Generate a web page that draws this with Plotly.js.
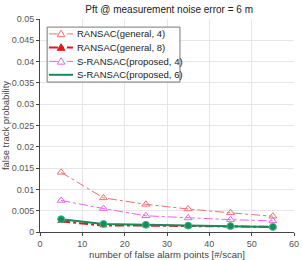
<!DOCTYPE html>
<html><head><meta charset="utf-8">
<script src="https://cdn.plot.ly/plotly-3.0.1.min.js"></script>
<style>html,body{margin:0;padding:0;background:#fff}#c{width:302px;height:260px}</style>
</head><body><div id="c"></div>
<script>
const falseAlarmPoints = [5, 15, 25, 35, 45, 55];
const ransacGeneral4 = [0.0140, 0.0080, 0.0065, 0.0054, 0.0045, 0.0037];
const ransacGeneral8 = [0.0025, 0.0015, 0.0015, 0.0014, 0.0013, 0.0012];
const sRansacProposed4 = [0.0074, 0.0055, 0.0038, 0.0033, 0.0029, 0.0026];
const sRansacProposed6 = [0.0030, 0.0019, 0.0017, 0.0015, 0.0014, 0.0012];
const seriesNames = ['RANSAC(general, 4)', 'RANSAC(general, 8)', 'S-RANSAC(proposed, 4)', 'S-RANSAC(proposed, 6)'];

const styles = [
  {color: '#f07070', width: 1, dash: 'dashdot', marker: 'tri-open'},
  {color: '#e0191b', width: 2, dash: 'dashdot', marker: 'tri'},
  {color: '#f060f0', width: 1, dash: 'dashdot', marker: 'tri-open'},
  {color: '#1a8a5a', width: 2, dash: 'solid', marker: 'circle', edge: '#3cc08a'}
];
const seriesValues = [ransacGeneral4, ransacGeneral8, sRansacProposed4, sRansacProposed6];

const traces = seriesValues.map((vals, i) => {
  const s = styles[i];
  let marker;
  if (s.marker === 'tri-open') marker = {symbol: 'triangle-up-open', size: 7, color: s.color, line: {width: 1}};
  else if (s.marker === 'tri') marker = {symbol: 'triangle-up', size: 7, color: s.color};
  else marker = {symbol: 'circle', size: 7, color: s.color, line: {color: s.edge, width: 1}};
  return {x: falseAlarmPoints, y: vals, name: seriesNames[i], mode: 'lines+markers',
          line: {color: s.color, width: s.width, dash: s.dash}, marker: marker, showlegend: false};
});

// custom compact legend (MATLAB style) built from the same names/styles
const shapes = [{type: 'rect', xref: 'paper', yref: 'paper', x0: 0.028, x1: 0.551, y0: 0.704, y1: 0.962,
                 line: {color: '#777', width: 1}, fillcolor: '#fff', layer: 'above'}];
const annotations = [];
const rowY = [0.930, 0.866, 0.801, 0.738];
seriesNames.forEach((nm, i) => {
  const s = styles[i];
  shapes.push({type: 'line', xref: 'paper', yref: 'paper', x0: 0.035, x1: 0.130, y0: rowY[i], y1: rowY[i],
               line: {color: s.color, width: s.width, dash: s.dash}, layer: 'above'});
  let path, fill, lc;
  if (s.marker === 'circle') { path = 'M3.5,0A3.5,3.5 0 1,1 -3.5,0A3.5,3.5 0 1,1 3.5,0Z'; fill = s.color; lc = s.edge; }
  else { path = 'M-3.8,-2.8L3.8,-2.8L0,3.8Z'; fill = s.marker === 'tri' ? s.color : '#fff'; lc = s.color; }
  shapes.push({type: 'path', xref: 'paper', yref: 'paper', xsizemode: 'pixel', ysizemode: 'pixel',
               xanchor: 0.083, yanchor: rowY[i], path: path, fillcolor: fill,
               line: {color: lc, width: 1}, layer: 'above'});
  annotations.push({xref: 'paper', yref: 'paper', x: 0.138, y: rowY[i], xanchor: 'left', yanchor: 'middle',
                    text: nm, showarrow: false, font: {size: 9.5, color: '#222'}});
});

const layout = {
  width: 302, height: 260,
  margin: {l: 40, r: 8, t: 19, b: 28},
  paper_bgcolor: '#fff', plot_bgcolor: '#fff',
  font: {family: 'Liberation Sans, Arial, sans-serif', size: 9, color: '#333'},
  title: {text: 'Pft @ measurement noise error = 6 m', x: 0.56, xanchor: 'center', y: 0.965, yanchor: 'middle',
          font: {size: 10, color: '#222'}},
  xaxis: {range: [0, 60], dtick: 10, showgrid: true, gridcolor: '#e6e6e6', zeroline: false,
          showline: true, linecolor: '#444', linewidth: 1, mirror: false, ticks: 'outside', ticklen: 3,
          tickcolor: '#444', tickfont: {size: 9, color: '#555'},
          title: {text: 'number of false alarm points [#/scan]', font: {size: 9.5, color: '#444'}, standoff: 2}},
  yaxis: {range: [0, 0.05], dtick: 0.005, showgrid: true, gridcolor: '#e6e6e6', zeroline: false,
          showline: true, linecolor: '#444', linewidth: 1, ticks: 'outside', ticklen: 3,
          tickcolor: '#444', tickfont: {size: 9, color: '#555'}, tickformat: '~g',
          title: {text: 'false track probability', font: {size: 9.5, color: '#444'}, standoff: 2}},
  showlegend: false,
  shapes: shapes,
  annotations: annotations
};

Plotly.newPlot('c', traces, layout, {displayModeBar: false, staticPlot: true});
</script>
</body></html>
